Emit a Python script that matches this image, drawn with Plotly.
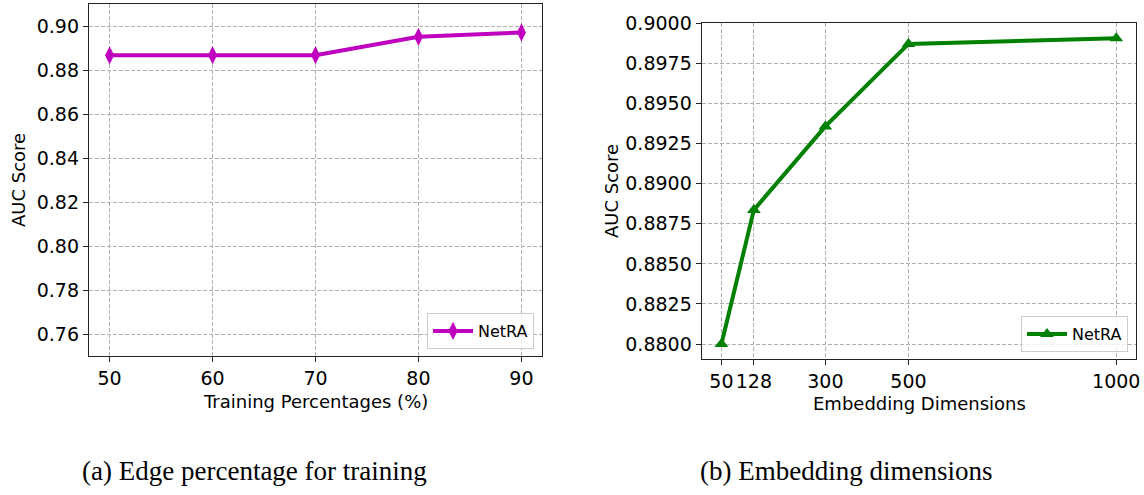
import plotly.graph_objects as go

# Data
train_pct = [50, 60, 70, 80, 90]
auc_train = [0.8867, 0.8868, 0.8868, 0.8951, 0.8971]
emb_dims = [50, 128, 300, 500, 1000]
auc_emb = [0.8800, 0.88837, 0.89358, 0.89873, 0.89908]
y1_ticks = [0.76, 0.78, 0.80, 0.82, 0.84, 0.86, 0.88, 0.90]
y2_ticks = [0.8800, 0.8825, 0.8850, 0.8875, 0.8900, 0.8925, 0.8950, 0.8975, 0.9000]

W, H = 1144, 495
def px(x):
    return x / W
def py(y):
    return 1 - y / H

fig = go.Figure()
fig.add_trace(go.Scatter(
    x=train_pct, y=auc_train, mode="lines+markers", name="NetRA",
    line=dict(color="#bf00bf", width=4),
    marker=dict(symbol="diamond-tall", size=13, color="#bf00bf"),
    xaxis="x", yaxis="y", legend="legend"))
fig.add_trace(go.Scatter(
    x=emb_dims, y=auc_emb, mode="lines+markers", name="NetRA",
    line=dict(color="#008000", width=4),
    marker=dict(symbol="triangle-up", size=12, color="#008000"),
    xaxis="x2", yaxis="y2", legend="legend2"))

tickfont = dict(family="DejaVu Sans", size=19, color="#000")
axcommon = dict(showline=True, linecolor="#222", linewidth=1.3, mirror=True,
                ticks="outside", ticklen=5, tickcolor="#222", tickwidth=1.2,
                showgrid=True, gridcolor="#b0b0b0", griddash="4px,2px", gridwidth=1,
                zeroline=False, tickfont=tickfont, automargin=False)

fig.update_layout(
    width=W, height=H, margin=dict(l=0, r=0, t=0, b=0, pad=0, autoexpand=False),
    paper_bgcolor="white", plot_bgcolor="white",
    xaxis=dict(domain=[px(89), px(542)], range=[48, 92], tickvals=train_pct,
               anchor="y", **axcommon),
    yaxis=dict(domain=[py(356), py(4)], range=[0.7503, 0.91], tickvals=y1_ticks,
               ticktext=[f"{v:.2f}" for v in y1_ticks], anchor="x", **axcommon),
    xaxis2=dict(domain=[px(701.7), px(1136)], range=[2.5, 1047.5], tickvals=emb_dims,
                anchor="y2", **axcommon),
    yaxis2=dict(domain=[py(359.3), py(22.7)], range=[0.879045, 0.900055], tickvals=y2_ticks,
                ticktext=[f"{v:.4f}" for v in y2_ticks], anchor="x2", **axcommon),
    legend=dict(x=px(534), y=py(349), xanchor="right", yanchor="bottom",
                bgcolor="rgba(255,255,255,0.8)", bordercolor="#cccccc", borderwidth=1,
                font=dict(family="DejaVu Sans", size=16, color="#000"),
                itemwidth=40),
    legend2=dict(x=px(1128), y=py(352), xanchor="right", yanchor="bottom",
                 bgcolor="rgba(255,255,255,0.8)", bordercolor="#cccccc", borderwidth=1,
                 font=dict(family="DejaVu Sans", size=16, color="#000"),
                 itemwidth=40),
    showlegend=True,
)

labfont = dict(family="DejaVu Sans", size=18, color="#000")
capfont = dict(family="Liberation Serif", size=27, color="#000")
ann = [
    dict(text="AUC Score", x=px(18), y=py(180), textangle=-90, font=labfont),
    dict(text="AUC Score", x=px(611), y=py(191), textangle=-90, font=labfont),
    dict(text="Training Percentages (%)", x=px(315), y=py(401), font=labfont),
    dict(text="Embedding Dimensions", x=px(919), y=py(403), font=labfont),
    dict(text="(a) Edge percentage for training", x=px(254), y=py(471), font=capfont),
    dict(text="(b) Embedding dimensions", x=px(846), y=py(471), font=capfont),
]
for a in ann:
    fig.add_annotation(xref="paper", yref="paper", showarrow=False,
                       xanchor="center", yanchor="middle", **a)

fig.write_html("out.html")
